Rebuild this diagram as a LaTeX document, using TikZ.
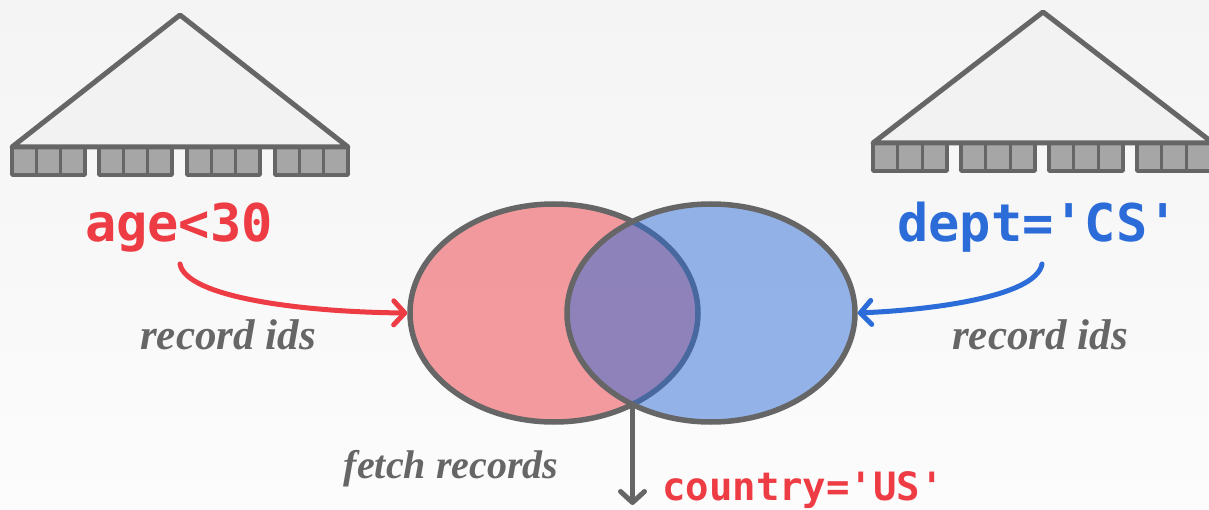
\documentclass[tikz,border=0pt]{standalone}
\usepackage{fontspec}
\setmainfont{Liberation Serif}
\setmonofont{DejaVu Sans Mono}
\usetikzlibrary{arrows.meta,shapes.geometric}
\definecolor{cred}{HTML}{EE3C44}
\definecolor{cblue}{HTML}{2C6CD8}
\definecolor{cgray}{HTML}{666666}
\definecolor{cleaf}{HTML}{A6A6A6}
\definecolor{ctree}{HTML}{F2F2F2}
\definecolor{bgtop}{HTML}{F4F4F4}
\definecolor{bgbot}{HTML}{FCFCFC}
\begin{document}
\begin{tikzpicture}[x=1pt,y=-1pt,
  treebody/.style={fill=ctree, draw=cgray, line width=5pt, line join=round},
  leafgroup/.style={fill=cleaf, draw=cgray, line width=3.5pt, line join=round},
  leafsep/.style={draw=cgray, line width=3pt},
  codetext/.style={font=\ttfamily\bfseries\fontsize{52}{52}\selectfont, inner sep=0pt, anchor=base},
  smallcode/.style={font=\ttfamily\bfseries\fontsize{39}{39}\selectfont, inner sep=0pt, anchor=base},
  lbl/.style={font=\bfseries\itshape\fontsize{40}{40}\selectfont, text=cgray, inner sep=0pt, anchor=base},
  setell/.style={ellipse, minimum width=288pt, minimum height=218pt, inner sep=0pt, draw=cgray, line width=5.5pt},
  conn/.style={line width=5pt, line cap=round,
    -{Straight Barb[length=11pt,width=24pt,line cap=round,line join=round]}}
]
\useasboundingbox (0,0) rectangle (1209,510);
\clip (0,0) rectangle (1209,510);
\shade[top color=bgtop, bottom color=bgbot] (0,0) rectangle (1209,510);

% left tree
\foreach \x in {12,99,187,275} {
  \draw[leafgroup] (\x,147) rectangle ++(73,28);
  \draw[leafsep] (\x+24.3,147) -- ++(0,28) (\x+48.7,147) -- ++(0,28);
}
\draw[treebody] (12,147) -- (180,15) -- (348,147) -- cycle;

% right tree
\foreach \x in {873,961,1049,1137} {
  \draw[leafgroup] (\x,143) rectangle ++(74,28);
  \draw[leafsep] (\x+24.6,143) -- ++(0,28) (\x+49.3,143) -- ++(0,28);
}
\draw[treebody] (873,143) -- (1043,12) -- (1213,143) -- cycle;

% sets
\node[setell, fill=cred, fill opacity=0.5] (rset) at (554,313) {};
\node[setell, fill=cblue, fill opacity=0.5] (bset) at (711,313) {};

% texts
\node[codetext, text=cred] (age) at (179,242) {age<30};
\node[codetext, text=cblue] (dept) at (1038,242) {dept='CS'};
\node[smallcode, text=cred] (ctry) at (803,500) {country='US'};
\node[lbl, font=\bfseries\itshape\fontsize{43}{43}\selectfont] (rid1) at (228,349) {record ids};
\node[lbl, font=\bfseries\itshape\fontsize{43}{43}\selectfont] (rid2) at (1040,349) {record ids};
\node[lbl] (fetch) at (451,478) {fetch records};

% connectors
\coordinate (isect) at (632.5,404);
\coordinate (fend) at (632.5,505);
\draw[conn, cred] ([yshift=-11pt,xshift=1pt]age.south) .. controls (186,297) and (300,312) .. (rset.west);
\draw[conn, cblue] ([yshift=-11pt,xshift=4pt]dept.south) .. controls (1036,297) and (930,310) .. (bset.east);
\draw[conn, cgray] (isect) -- (fend);
\end{tikzpicture}
\end{document}
